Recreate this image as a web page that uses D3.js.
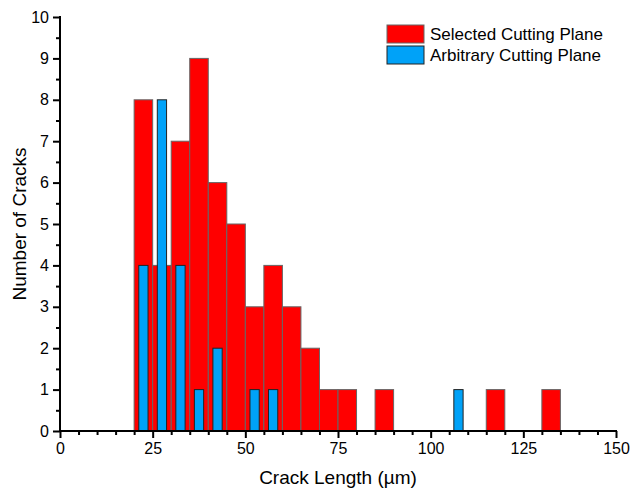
<!DOCTYPE html>
<html>
<head>
<meta charset="utf-8">
<script src="https://cdn.jsdelivr.net/npm/d3@7"></script>
<style>
  body { margin: 0; background: #fff; }
  svg { display: block; font-family: Arial, "Liberation Sans", sans-serif; }
  .axis path, .axis line { stroke: #000; }
  .axis text { font-size: 16px; fill: #000; font-family: Arial, "Liberation Sans", sans-serif; }
</style>
</head>
<body>
<svg></svg>
<script>
/* histogram bins (lower edge, width 5 um) */
var binStarts = [20, 25, 30, 35, 40, 45, 50, 55, 60, 65, 70, 75, 80, 85, 90, 95, 100, 105, 110, 115, 120, 125, 130];
var selectedCounts = [8, 4, 7, 9, 6, 5, 3, 4, 3, 2, 1, 1, 0, 1, 0, 0, 0, 0, 0, 1, 0, 0, 1];
var arbitraryCounts = [4, 8, 4, 1, 2, 0, 1, 1, 0, 0, 0, 0, 0, 0, 0, 0, 0, 1, 0, 0, 0, 0, 0];
var binWidth = 5;

var seriesNames = ['Selected Cutting Plane', 'Arbitrary Cutting Plane'];
var xTicks = [0, 25, 50, 75, 100, 125, 150];
var yTicks = [0, 1, 2, 3, 4, 5, 6, 7, 8, 9, 10];

var svgWidth = 630;
var svgHeight = 491;
var margin = {top: 17, right: 14, bottom: 60, left: 60};
var width = svgWidth - margin.left - margin.right;
var height = svgHeight - margin.top - margin.bottom;

var redFill = '#ff0000';
var blueFill = '#00a2f8';

var svg = d3.select('svg')
    .attr('width', svgWidth)
    .attr('height', svgHeight);

var scale = {};
scale.x = d3.scaleLinear().domain([0, 150]).range([0, width]);
scale.y = d3.scaleLinear().domain([0, 10]).range([height, 0]);

var g = svg.append('g').attr('transform', translate(margin.left, margin.top));

var selectedData = binStarts.map(function(s, i){ return {x: s, y: selectedCounts[i]}; })
    .filter(function(d){ return d.y > 0; });
var arbitraryData = binStarts.map(function(s, i){ return {x: s, y: arbitraryCounts[i]}; })
    .filter(function(d){ return d.y > 0; });

// red bars span the full bin
g.append('g').selectAll('rect')
    .data(selectedData)
    .enter()
    .append('rect')
    .attr('x', function(d){ return scale.x(d.x); })
    .attr('y', function(d){ return scale.y(d.y); })
    .attr('width', function(d){ return scale.x(d.x + binWidth) - scale.x(d.x); })
    .attr('height', function(d){ return scale.y(0) - scale.y(d.y); })
    .attr('fill', redFill)
    .attr('stroke', '#666')
    .attr('stroke-width', 1);

// blue bars are half width, centred in the bin
g.append('g').selectAll('rect')
    .data(arbitraryData)
    .enter()
    .append('rect')
    .attr('x', function(d){ return scale.x(d.x + binWidth / 4); })
    .attr('y', function(d){ return scale.y(d.y); })
    .attr('width', function(d){ return scale.x(d.x + binWidth * 0.75) - scale.x(d.x + binWidth / 4); })
    .attr('height', function(d){ return scale.y(0) - scale.y(d.y); })
    .attr('fill', blueFill)
    .attr('stroke', '#222')
    .attr('stroke-width', 1);

/* axes */
var xMinor = d3.range(0, 151, 5).filter(function(v){ return v % 25 !== 0; });
var yMinor = d3.range(0.5, 10, 1);

g.append('g')
    .attr('class', 'axis')
    .attr('transform', translate(0, height))
    .call(d3.axisBottom(scale.x).tickValues(xMinor).tickSize(4).tickSizeOuter(0).tickFormat(''))
    .call(function(a){ a.select('.domain').remove(); })
    .selectAll('line').attr('stroke-width', 2);

g.append('g')
    .attr('class', 'axis')
    .call(d3.axisLeft(scale.y).tickValues(yMinor).tickSize(4).tickSizeOuter(0).tickFormat(''))
    .call(function(a){ a.select('.domain').remove(); })
    .selectAll('line').attr('stroke-width', 2);

var xAxis = g.append('g')
    .attr('class', 'axis')
    .attr('transform', translate(0, height))
    .call(d3.axisBottom(scale.x).tickValues(xTicks).tickSize(7).tickSizeOuter(0).tickPadding(5));
xAxis.select('.domain').attr('stroke-width', 2).attr('d', 'M' + (-1) + ',0H' + (width + 1));
xAxis.selectAll('line').attr('stroke-width', 2);

var yAxis = g.append('g')
    .attr('class', 'axis')
    .call(d3.axisLeft(scale.y).tickValues(yTicks).tickSize(7).tickSizeOuter(0).tickPadding(4));
yAxis.select('.domain').attr('stroke-width', 2).attr('d', 'M0,' + (height + 1) + 'V-1');
yAxis.selectAll('line').attr('stroke-width', 2);

/* axis titles */
svg.append('text')
    .attr('x', margin.left + width / 2)
    .attr('y', 484)
    .attr('text-anchor', 'middle')
    .style('font-size', '19px')
    .text('Crack Length (\u00b5m)');

svg.append('text')
    .attr('transform', 'translate(26,' + (margin.top + height / 2) + ') rotate(-90)')
    .attr('text-anchor', 'middle')
    .style('font-size', '19px')
    .text('Number of Cracks');

/* legend */
var legend = svg.append('g').attr('transform', translate(387, 25));
var legendItems = [
  {name: seriesNames[0], fill: redFill, stroke: '#666'},
  {name: seriesNames[1], fill: blueFill, stroke: '#222'}
];
legend.selectAll('rect')
    .data(legendItems)
    .enter()
    .append('rect')
    .attr('x', 0)
    .attr('y', function(d, i){ return i * 21; })
    .attr('width', 37)
    .attr('height', 18)
    .attr('fill', function(d){ return d.fill; })
    .attr('stroke', function(d){ return d.stroke; })
    .attr('stroke-width', 1);
legend.selectAll('text')
    .data(legendItems)
    .enter()
    .append('text')
    .attr('x', 43)
    .attr('y', function(d, i){ return i * 21 + 15; })
    .style('font-size', '17px')
    .text(function(d){ return d.name; });

function translate(x, y) {
  return 'translate(' + x + ',' + y + ')';
}
</script>
</body>
</html>
